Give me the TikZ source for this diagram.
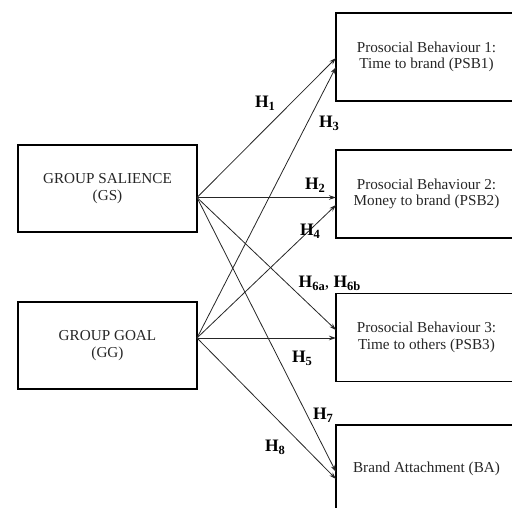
\documentclass[tikz,border=0pt]{standalone}
\usepackage{fontspec}
\setmainfont{Liberation Serif}
\usetikzlibrary{arrows.meta,calc}
\newcommand\Hsub[1]{\textbf{H}\raisebox{-3pt}{\fontsize{12.5}{12.5}\selectfont\bfseries #1}}
\begin{document}
\begin{tikzpicture}[x=1pt,y=-1pt,
  box/.style={draw=black, line width=1.8pt, outer sep=0pt, inner sep=0pt,
    minimum width=179pt, minimum height=87pt, align=center,
    font=\fontsize{15.2}{16.5}\selectfont, text=black!85},
  rbox/.style={box, minimum width=181pt, minimum height=88pt},
  link/.style={draw=black!85, line width=0.8pt, -{Stealth[length=7pt,width=4.5pt]}},
  hlab/.style={anchor=base, inner sep=0pt, font=\fontsize{17.5}{19}\selectfont}]
\useasboundingbox (0,0) rectangle (512,507);
\begin{scope}
\clip (0,0) rectangle (512,507);
\node[box] (gs) at (107.5,188.5) {GROUP SALIENCE\\(GS)};
\node[box] (gg) at (107.5,345.5) {GROUP GOAL\\(GG)};
\node[rbox] (psb1) at (426.5,57) {Prosocial Behaviour 1:\\Time to brand (PSB1)};
\node[rbox] (psb2) at (426.5,194) {Prosocial Behaviour 2:\\Money to brand (PSB2)};
\node[rbox] (psb3) at (426.5,337.5) {Prosocial Behaviour 3:\\Time to others (PSB3)};
\node[rbox] (ba) at (426.5,469) {Brand Attachment (BA)};

\coordinate (gsout) at ($(gs.east)+(0,9)$);
\coordinate (ggout) at ($(gg.east)+(0,-7.5)$);
\coordinate (t1a) at ($(psb1.west)+(0,1)$);
\coordinate (t1b) at ($(psb1.west)+(0,10)$);
\coordinate (t2a) at ($(psb2.west)+(0,3.5)$);
\coordinate (t2b) at ($(psb2.west)+(0,11)$);
\coordinate (t3a) at ($(psb3.west)+(0,-7.5)$);
\coordinate (t3b) at ($(psb3.west)+(0,0.5)$);
\coordinate (t4a) at ($(ba.west)+(0,3)$);
\coordinate (t4b) at ($(ba.west)+(0,10)$);

\draw[link] (gsout) -- (t1a);
\draw[link] (gsout) -- (t2a);
\draw[link] (gsout) -- (t3a);
\draw[link] (gsout) -- (t4a);
\draw[link] (ggout) -- (t1b);
\draw[link] (ggout) -- (t2b);
\draw[link] (ggout) -- (t3b);
\draw[link] (ggout) -- (t4b);

\node[hlab] (h1) at (265,107) {\Hsub{1}};
\node[hlab] (h3) at (329,127) {\Hsub{3}};
\node[hlab] (h2) at (315,189) {\Hsub{2}};
\node[hlab] (h4) at (310,235) {\Hsub{4}};
\node[hlab] (h6) at (329.5,287) {\Hsub{6a}, \Hsub{6b}};
\node[hlab] (h5) at (302,362) {\Hsub{5}};
\node[hlab] (h7) at (323,419) {\Hsub{7}};
\node[hlab] (h8) at (275,451) {\Hsub{8}};
\end{scope}
\end{tikzpicture}
\end{document}
